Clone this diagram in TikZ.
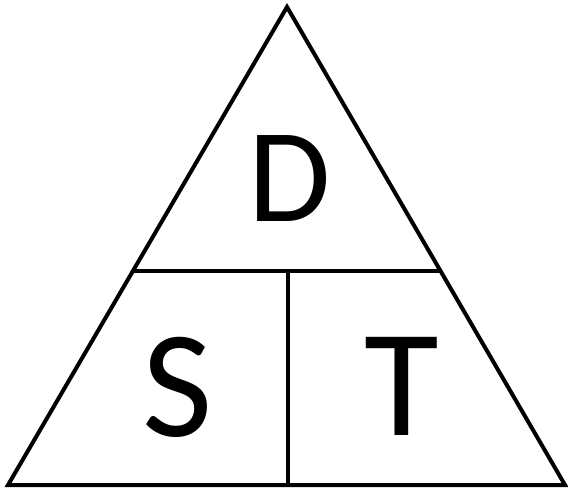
\documentclass[tikz,border=0pt]{standalone}
\usepackage{fontspec}
\setmainfont{Carlito}
\begin{document}
\begin{tikzpicture}[x=1pt,y=-1pt,
  edge/.style={line width=4pt, draw=black, line join=miter},
  bigletter/.style={anchor=base, inner sep=0pt, font=\fontsize{134}{134}\selectfont},
  letter/.style={anchor=base, inner sep=0pt, font=\fontsize{153}{153}\selectfont}]
\useasboundingbox (0,0) rectangle (568,492);
\coordinate (apex) at (287,7);
\coordinate (bl) at (8,485);
\coordinate (br) at (565,485);
\coordinate (ml) at (133,271);
\coordinate (mr) at (440.5,271);
\coordinate (mm) at (288,271);
\coordinate (mb) at (288,485);
\draw[edge] (apex) -- (bl) -- (br) -- cycle;
\draw[edge] (ml) -- (mr);
\draw[edge] (mm) -- (mb);
\node[bigletter] (d) at (290,222) {D};
\node[letter] (s) at (178,436) {S};
\node[letter] (t) at (402,435) {T};
\end{tikzpicture}
\end{document}
